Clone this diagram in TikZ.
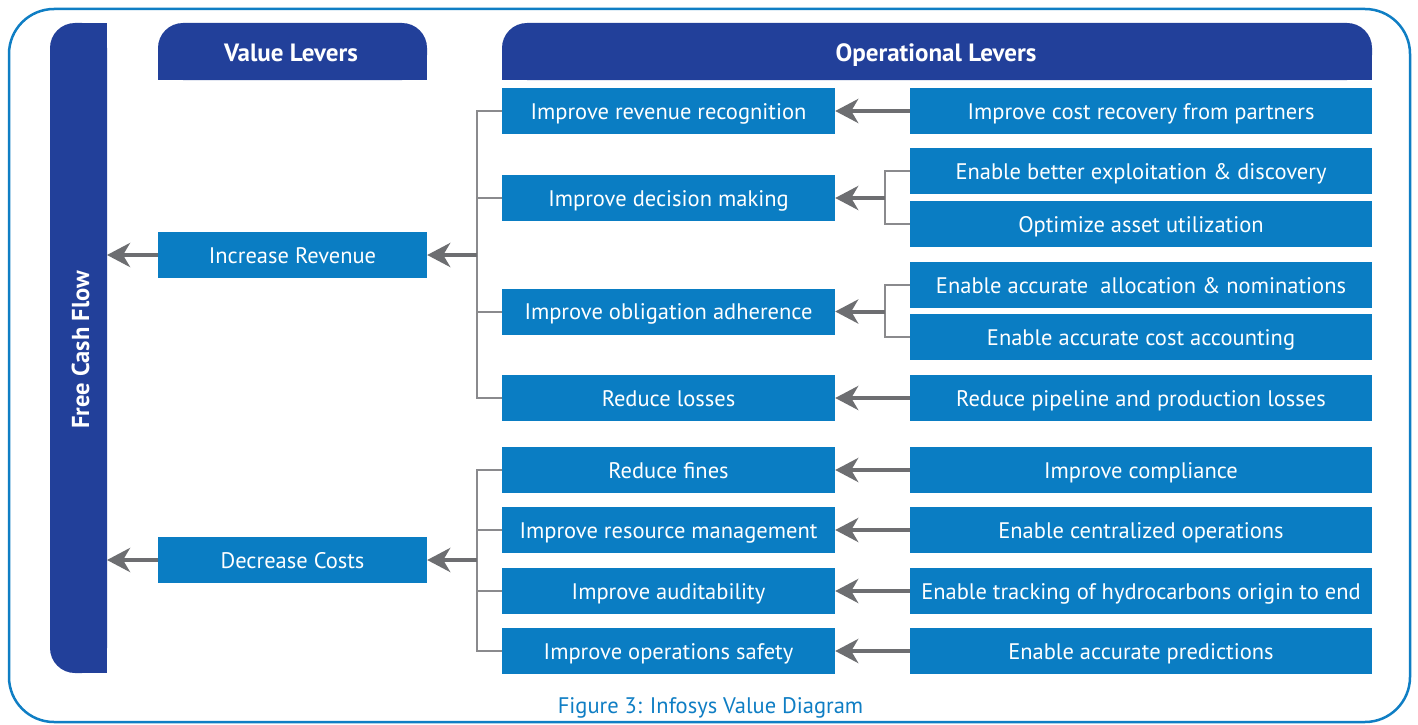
\documentclass[tikz,border=0pt]{standalone}
\usepackage{fontspec}
\setmainfont{PT Sans}
\usetikzlibrary{arrows.meta}
\definecolor{hdrblue}{HTML}{22409A}
\definecolor{boxblue}{HTML}{0A7DC3}
\definecolor{frameblue}{HTML}{0F7EC4}
\definecolor{arrgray}{HTML}{6D6E71}
\definecolor{treegray}{HTML}{8A8A8D}
\begin{document}
\begin{tikzpicture}[x=1pt,y=-1pt,
  box/.style={fill=boxblue,text=white,inner sep=0pt,font=\fontsize{22.5}{26}\selectfont,text height=16.5pt,text depth=0pt},
  midbox/.style={box,minimum width=333pt,minimum height=46pt},
  rbox/.style={box,minimum width=462pt,minimum height=46pt},
  lbox/.style={box,minimum width=269pt,minimum height=46pt},
  hdrtext/.style={text=white,font=\fontsize{25}{28}\selectfont\bfseries,inner sep=0pt,text height=18pt,text depth=0pt},
  arr/.style={draw=arrgray,line width=4pt,-{Stealth[length=23pt,width=24pt,inset=7pt]}},
  tree/.style={draw=treegray,line width=2pt}]
\useasboundingbox (0,0) rectangle (1418,725);
\fill[white] (0,0) rectangle (1418,725);
% outer frame
\draw[frameblue,line width=2.5pt,rounded corners=45pt] (9,9) rectangle (1410,722);
% Free cash flow bar
\fill[hdrblue,rounded corners=25pt] (50,23) rectangle (107,673);
\fill[hdrblue] (80,23) rectangle (107,673);
\node[hdrtext,rotate=90,font=\fontsize{24.5}{28}\selectfont\bfseries] (fcf) at (80,350) {Free Cash Flow};
\coordinate (fcfe1) at (107,255);
\coordinate (fcfe2) at (107,560);
% headers
\fill[hdrblue,rounded corners=25pt] (158,23) rectangle (427,80);
\fill[hdrblue] (158,55) rectangle (427,80);
\node[hdrtext] (vl) at (291,53) {Value Levers};
\fill[hdrblue,rounded corners=25pt] (502,23) rectangle (1372,80);
\fill[hdrblue] (502,55) rectangle (1372,80);
\node[hdrtext] (ol) at (936,53) {Operational Levers};
% left column
\node[lbox] (ir) at (292.5,255) {Increase Revenue};
\node[lbox] (dc) at (292.5,560) {Decrease Costs};
% middle column
\node[midbox] (m1) at (668.5,111) {Improve revenue recognition};
\node[midbox] (m2) at (668.5,198) {Improve decision making};
\node[midbox] (m3) at (668.5,311.5) {Improve obligation adherence};
\node[midbox] (m4) at (668.5,398) {Reduce losses};
\node[midbox] (m5) at (668.5,470) {Reduce fines};
\node[midbox] (m6) at (668.5,530) {Improve resource management};
\node[midbox] (m7) at (668.5,591) {Improve auditability};
\node[midbox] (m8) at (668.5,651) {Improve operations safety};
% right column
\node[rbox] (r1) at (1141,111) {Improve cost recovery from partners};
\node[rbox] (r2a) at (1141,171) {Enable better exploitation \& discovery};
\node[rbox] (r2b) at (1141,224) {Optimize asset utilization};
\node[rbox] (r3a) at (1141,285) {Enable accurate~ allocation \& nominations};
\node[rbox] (r3b) at (1141,337) {Enable accurate cost accounting};
\node[rbox] (r4) at (1141,398) {Reduce pipeline and production losses};
\node[rbox] (r5) at (1141,470) {Improve compliance};
\node[rbox] (r6) at (1141,530) {Enable centralized operations};
\node[rbox] (r7) at (1141,591) {Enable tracking of hydrocarbons origin to end};
\node[rbox] (r8) at (1141,651) {Enable accurate predictions};
% junctions
\coordinate (j1) at (477,255);
\coordinate (j2) at (477,560);
\coordinate (k2) at (885,198);
\coordinate (k3) at (885,311.5);
% trees middle -> left
\draw[tree] (m1.west) -| (j1) |- (m4.west);
\draw[tree] (m2.west) -- (m2.west -| j1);
\draw[tree] (m3.west) -- (m3.west -| j1);
\draw[tree] (m5.west) -| (j2) |- (m8.west);
\draw[tree] (m6.west) -- (m6.west -| j2);
\draw[tree] (m7.west) -- (m7.west -| j2);
% trees right pairs
\draw[tree] (r2a.west) -| (k2) |- (r2b.west);
\draw[tree] (r3a.west) -| (k3) |- (r3b.west);
% arrows
\draw[arr] (j1) -- (ir.east);
\draw[arr] (j2) -- (dc.east);
\draw[arr] (ir.west) -- (fcfe1);
\draw[arr] (dc.west) -- (fcfe2);
\draw[arr] (r1.west) -- (m1.east);
\draw[arr] (k2) -- (m2.east);
\draw[arr] (k3) -- (m3.east);
\draw[arr] (r4.west) -- (m4.east);
\draw[arr] (r5.west) -- (m5.east);
\draw[arr] (r6.west) -- (m6.east);
\draw[arr] (r7.west) -- (m7.east);
\draw[arr] (r8.west) -- (m8.east);
% caption
\node[text=frameblue,font=\fontsize{22.5}{26}\selectfont,inner sep=0pt,text height=16pt,text depth=0pt] (cap) at (710.5,705) {Figure 3: Infosys Value Diagram};
\end{tikzpicture}
\end{document}
